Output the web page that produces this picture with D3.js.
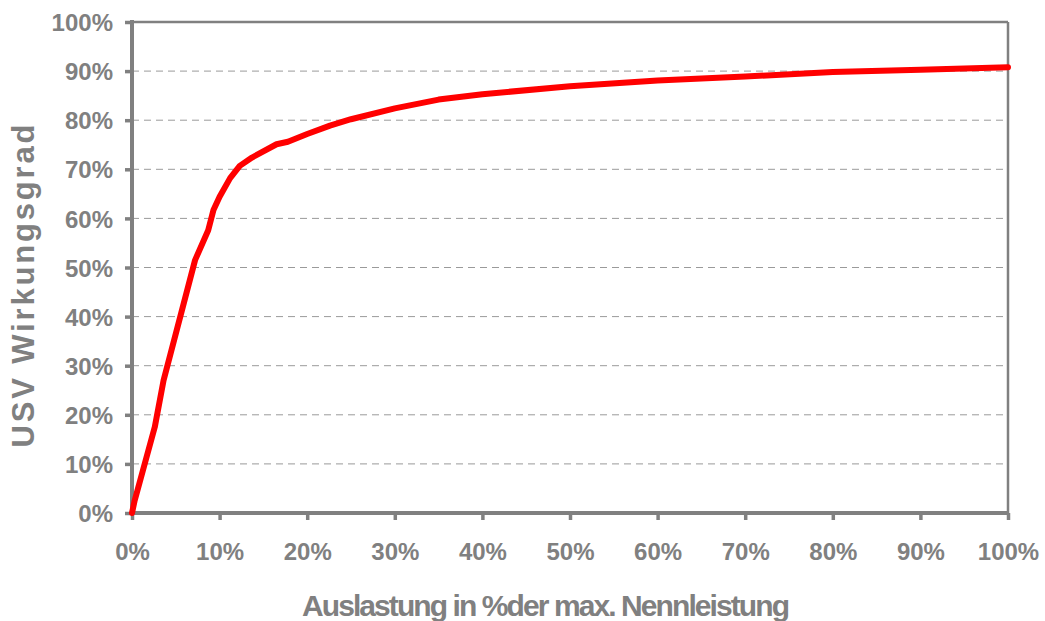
<!DOCTYPE html>
<html>
<head>
<meta charset="utf-8">
<script src="https://cdn.jsdelivr.net/npm/d3@7"></script>
<style>
  body { margin: 0; background: #fff; }
  text { font-family: "Liberation Sans", Arial, sans-serif; font-weight: bold; fill: #808080; }
</style>
</head>
<body>
<div id="chart"></div>
<script>
// Auslastung (%) und Wirkungsgrad (%)
var load = [0, 0.3, 2.6, 3.6, 7.2, 8.7, 9.3, 10, 11.2, 12.3, 13.7, 16.5, 17.8, 20, 22.6, 25, 30, 35, 40, 50, 60, 70, 80, 90, 100];
var eff  = [0, 2.5, 17.5, 27, 51.5, 57.6, 61.7, 64.4, 68.2, 70.7, 72.4, 75.1, 75.6, 77.2, 78.9, 80.2, 82.4, 84.2, 85.3, 86.9, 88.1, 88.9, 89.8, 90.3, 90.8];
var xTicks = [0, 10, 20, 30, 40, 50, 60, 70, 80, 90, 100];
var yTicks = [0, 10, 20, 30, 40, 50, 60, 70, 80, 90, 100];

var width = 1045, height = 621;
var plotLeft = 132, plotRight = 1008, plotTop = 22, plotBottom = 513;
var grey = "#808080";

var svg = d3.select("#chart")
            .append("svg")
            .attr("width", width)
            .attr("height", height)

var x = d3.scaleLinear().domain([0, 100]).range([plotLeft, plotRight]);
var y = d3.scaleLinear().domain([0, 100]).range([plotBottom, plotTop]);

// gestrichelte Gitterlinien
svg.append("g")
    .selectAll("line")
    .data(yTicks.filter(function(d) { return d > 0 && d < 100; }))
    .enter()
    .append("line")
    .attr("x1", plotLeft)
    .attr("x2", plotRight)
    .attr("y1", function(d) { return y(d); })
    .attr("y2", function(d) { return y(d); })
    .style("stroke", "#9a9a9a")
    .style("stroke-width", 1)
    .style("stroke-dasharray", "7,5");

// Rahmen oben und rechts
svg.append("line")
    .attr("x1", plotLeft).attr("x2", plotRight)
    .attr("y1", plotTop).attr("y2", plotTop)
    .style("stroke", grey).style("stroke-width", 2.5);
svg.append("line")
    .attr("x1", plotRight).attr("x2", plotRight)
    .attr("y1", plotTop).attr("y2", plotBottom)
    .style("stroke", grey).style("stroke-width", 2.5);

// Achsen
var yAxis = svg.append("g")
    .attr("transform", "translate(" + plotLeft + ",0)")
    .call(d3.axisLeft(y).tickValues(yTicks).tickSize(7).tickPadding(12)
        .tickFormat(function(d) { return d + "%"; }));
var xAxis = svg.append("g")
    .attr("transform", "translate(0," + plotBottom + ")")
    .call(d3.axisBottom(x).tickValues(xTicks).tickSize(7).tickPadding(23)
        .tickFormat(function(d) { return d + "%"; }));

[yAxis, xAxis].forEach(function(a) {
    a.select(".domain").remove();
    a.selectAll(".tick line").style("stroke", grey).style("stroke-width", 3.5);
    a.selectAll(".tick text")
        .style("font-size", "24px")
        .style("font-family", "'Liberation Sans', Arial, sans-serif")
        .style("font-weight", "bold")
        .attr("fill", grey);
});
yAxis.selectAll(".tick text").attr("dy", "0.36em");

svg.append("line")
    .attr("x1", plotLeft).attr("x2", plotLeft)
    .attr("y1", plotTop - 2).attr("y2", plotBottom + 2)
    .style("stroke", grey).style("stroke-width", 4);
svg.append("line")
    .attr("x1", plotLeft - 2).attr("x2", plotRight + 1)
    .attr("y1", plotBottom).attr("y2", plotBottom)
    .style("stroke", grey).style("stroke-width", 4);

// Kurve
var pts = load.map(function(d, i) { return [d, eff[i]]; });
svg.append("path")
    .datum(pts)
    .attr("d", d3.line()
        .x(function(d) { return x(d[0]); })
        .y(function(d) { return y(d[1]); })
    )
    .style("fill", "none")
    .style("stroke", "#ff0000")
    .style("stroke-width", 6)
    .style("stroke-linejoin", "round")
    .style("stroke-linecap", "round");

// Achsentitel
svg.append("text")
    .attr("x", 546)
    .attr("y", 616)
    .attr("text-anchor", "middle")
    .attr("textLength", 488)
    .attr("lengthAdjust", "spacing")
    .style("font-size", "30px")
    .text("Auslastung in %der max. Nennleistung");

svg.append("text")
    .attr("transform", "translate(34,286) rotate(-90)")
    .attr("text-anchor", "middle")
    .attr("textLength", 323)
    .attr("lengthAdjust", "spacing")
    .style("font-size", "31px")
    .text("USV Wirkungsgrad");
</script>
</body>
</html>
